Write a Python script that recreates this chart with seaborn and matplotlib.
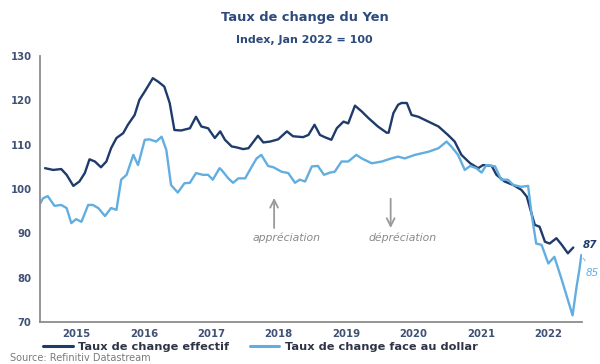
import matplotlib
matplotlib.use("Agg")
import matplotlib.pyplot as plt
import numpy as np
import pandas as pd
import seaborn as sns

# ---------------- data ----------------
series_names = ["Taux de change effectif", "Taux de change face au dollar"]

effectif_dates = [2015.03, 2015.15, 2015.27, 2015.35, 2015.45, 2015.54, 2015.62, 2015.69,
                  2015.77, 2015.86, 2015.94, 2016.01, 2016.09, 2016.19, 2016.26, 2016.36,
                  2016.43, 2016.51, 2016.63, 2016.71, 2016.80, 2016.88, 2016.95, 2017.05,
                  2017.18, 2017.27, 2017.35, 2017.45, 2017.55, 2017.63, 2017.70, 2017.80,
                  2017.87, 2017.97, 2018.05, 2018.19, 2018.27, 2018.37, 2018.49, 2018.62,
                  2018.71, 2018.86, 2018.94, 2019.03, 2019.11, 2019.18, 2019.28, 2019.36,
                  2019.46, 2019.53, 2019.63, 2019.73, 2019.83, 2019.97, 2020.10, 2020.13,
                  2020.20, 2020.27, 2020.32, 2020.40, 2020.47, 2020.57, 2020.72, 2020.87,
                  2021.01, 2021.11, 2021.21, 2021.34, 2021.46, 2021.53, 2021.66, 2021.73,
                  2021.85, 2021.98, 2022.10, 2022.18, 2022.25, 2022.30, 2022.37, 2022.45,
                  2022.52, 2022.62, 2022.70, 2022.79, 2022.87]
effectif_values = [104.7, 104.3, 104.5, 103.2, 100.7, 101.7, 103.6, 106.7,
                   106.2, 104.9, 106.2, 109.2, 111.5, 112.6, 114.5, 116.7,
                   120.1, 122.0, 125.0, 124.2, 123.1, 119.4, 113.3, 113.2,
                   113.7, 116.3, 114.1, 113.7, 111.5, 113.0, 111.1, 109.6,
                   109.4, 109.0, 109.2, 112.0, 110.5, 110.7, 111.2, 113.0,
                   111.9, 111.7, 112.2, 114.5, 112.2, 111.7, 111.1, 113.7,
                   115.2, 114.8, 118.8, 117.5, 116.0, 114.1, 112.7, 112.7,
                   117.1, 119.0, 119.4, 119.4, 116.7, 116.3, 115.2, 114.1,
                   112.2, 110.7, 107.7, 105.8, 104.7, 105.4, 105.2, 103.2,
                   101.7, 100.9, 99.8, 98.3, 94.5, 91.9, 91.5, 88.1,
                   87.7, 88.9, 87.4, 85.5, 86.8]

dollar_dates = [2014.96, 2015.00, 2015.07, 2015.17, 2015.27, 2015.35, 2015.42, 2015.49,
                2015.57, 2015.67, 2015.74, 2015.82, 2015.92, 2016.01, 2016.09, 2016.16,
                2016.24, 2016.34, 2016.41, 2016.51, 2016.58, 2016.68, 2016.76, 2016.83,
                2016.90, 2017.00, 2017.10, 2017.18, 2017.27, 2017.37, 2017.45, 2017.52,
                2017.62, 2017.65, 2017.75, 2017.82, 2017.90, 2018.00, 2018.10, 2018.17,
                2018.24, 2018.34, 2018.42, 2018.54, 2018.64, 2018.74, 2018.81, 2018.89,
                2018.99, 2019.08, 2019.17, 2019.26, 2019.33, 2019.43, 2019.53, 2019.65,
                2019.73, 2019.88, 2020.03, 2020.17, 2020.27, 2020.37, 2020.52, 2020.72,
                2020.87, 2020.99, 2021.06, 2021.16, 2021.26, 2021.34, 2021.43, 2021.51,
                2021.58, 2021.71, 2021.80, 2021.90, 2021.98, 2022.10, 2022.20, 2022.25,
                2022.32, 2022.40, 2022.50, 2022.59, 2022.70, 2022.86, 2022.92, 2022.96,
                2022.99]
dollar_values = [96.8, 97.9, 98.4, 96.2, 96.4, 95.7, 92.3, 93.2,
                 92.6, 96.4, 96.4, 95.7, 93.9, 95.7, 95.3, 102.1,
                 103.2, 107.7, 105.4, 111.1, 111.2, 110.7, 111.8, 108.8,
                 100.9, 99.2, 101.3, 101.4, 103.6, 103.2, 103.2, 102.1,
                 104.7, 104.3, 102.4, 101.4, 102.4, 102.4, 105.1, 106.9,
                 107.7, 105.2, 104.9, 103.9, 103.6, 101.4, 102.1, 101.7,
                 105.1, 105.2, 103.2, 103.7, 103.9, 106.2, 106.2, 107.7,
                 106.9, 105.8, 106.2, 106.9, 107.3, 106.9, 107.7, 108.4,
                 109.2, 110.7, 109.6, 107.7, 104.3, 105.2, 104.7, 103.7,
                 105.4, 105.1, 102.1, 102.1, 100.9, 100.5, 100.7, 94.5,
                 87.7, 87.4, 83.2, 84.7, 79.5, 71.5, 78.0, 81.7,
                 85.1]

year_labels = [2015, 2016, 2017, 2018, 2019, 2020, 2021, 2022]
year_bounds = [2016, 2017, 2018, 2019, 2020, 2021, 2022, 2023]
y_ticks = [70, 80, 90, 100, 110, 120, 130]
end_labels = ["87", "85"]
annot_texts = ["appréciation", "dépréciation"]

# ---------------- styling ----------------
DARK = "#1f3b6b"
LIGHT = "#62aee0"
TITLE_C = "#2c4a7c"
TICK_C = "#3f5174"
GRAY = "#8c8c8c"

sns.set_theme(style="white")
plt.rcParams["font.family"] = ["DejaVu Sans"]

df = pd.concat([
    pd.DataFrame({"date": effectif_dates, "value": effectif_values, "series": series_names[0]}),
    pd.DataFrame({"date": dollar_dates, "value": dollar_values, "series": series_names[1]}),
], ignore_index=True)

fig = plt.figure(figsize=(6.0, 3.64), dpi=100)
ax = fig.add_axes([40 / 600, 1 - 322 / 364, (582 - 40) / 600, (322 - 56) / 364])

sns.lineplot(data=df, x="date", y="value", hue="series", estimator=None, sort=False,
             palette={series_names[0]: DARK, series_names[1]: LIGHT},
             linewidth=1.7, ax=ax, legend=True)

ax.set_xlim(2014.955, 2023.0)
ax.set_ylim(70, 130)
ax.set_xlabel("")
ax.set_ylabel("")

for s in ["top", "right"]:
    ax.spines[s].set_visible(False)
for s in ["left", "bottom"]:
    ax.spines[s].set_color(GRAY)
    ax.spines[s].set_linewidth(1.3)

ax.set_yticks(y_ticks)
ax.set_yticklabels([str(v) for v in y_ticks])
ax.tick_params(axis="y", which="major", direction="out", length=3, width=1.2,
               color=GRAY, labelsize=7.3, labelcolor=TICK_C, pad=3)

ax.set_xticks(year_bounds)
ax.set_xticklabels([])
ax.set_xticks([y + 0.5 for y in year_labels], minor=True)
ax.set_xticklabels([str(y) for y in year_labels], minor=True)
ax.tick_params(axis="x", which="major", direction="inout", length=3.5, width=1.4, color="#666666")
ax.tick_params(axis="x", which="minor", length=0, labelsize=7.3, labelcolor=TICK_C, pad=5)
for lab in ax.get_xticklabels(minor=True) + ax.get_yticklabels():
    lab.set_fontweight("bold")

# arrows + texts
ax.annotate("", xy=(2018.43, 98.0), xytext=(2018.43, 91.2),
            arrowprops=dict(arrowstyle="->", color="#9a9a9a", lw=1.3, mutation_scale=14,
                            shrinkA=0, shrinkB=0))
ax.annotate("", xy=(2020.16, 91.2), xytext=(2020.16, 97.8),
            arrowprops=dict(arrowstyle="->", color="#9a9a9a", lw=1.3, mutation_scale=14,
                            shrinkA=0, shrinkB=0))
ax.text(2018.61, 89.0, annot_texts[0], ha="center", va="center", fontsize=7.8,
        style="italic", color="#8a8a8a")
ax.text(2020.34, 89.0, annot_texts[1], ha="center", va="center", fontsize=7.8,
        style="italic", color="#8a8a8a")

# end labels
ax.text(2023.015, 87.4, end_labels[0], ha="left", va="center", fontsize=7.5,
        fontweight="bold", style="italic", color=DARK, clip_on=False)
ax.annotate(end_labels[1], xy=(2023.02, 84.4), xytext=(2023.06, 81.1),
            ha="left", va="center", fontsize=7.5, style="italic", color=LIGHT,
            arrowprops=dict(arrowstyle="-", color=LIGHT, lw=0.6, shrinkA=3, shrinkB=0),
            annotation_clip=False)

# legend
h, l = ax.get_legend_handles_labels()
for hh in h:
    hh.set_linewidth(2.2)
ax.legend(h, l, loc="center left", bbox_to_anchor=(43 / 600, 1 - 347 / 364),
          bbox_transform=fig.transFigure, ncol=2, frameon=False, borderpad=0,
          borderaxespad=0, handlelength=2.6, handletextpad=0.5, columnspacing=1.8,
          prop={"size": 8.2, "weight": "bold"}, labelcolor="#2e3446")

# titles / source
fig.text(0.508, 1 - 18 / 364, "Taux de change du Yen", ha="center", va="center",
         fontsize=9.4, fontweight="bold", color=TITLE_C)
fig.text(0.508, 1 - 40 / 364, "Index, Jan 2022 = 100", ha="center", va="center",
         fontsize=8.0, fontweight="bold", color=TITLE_C)
fig.text(10 / 600, 1 - 358 / 364, "Source: Refinitiv Datastream", ha="left", va="center",
         fontsize=7.0, color="#7a7a7a")

fig.savefig("out.png", dpi=100, facecolor="white")
